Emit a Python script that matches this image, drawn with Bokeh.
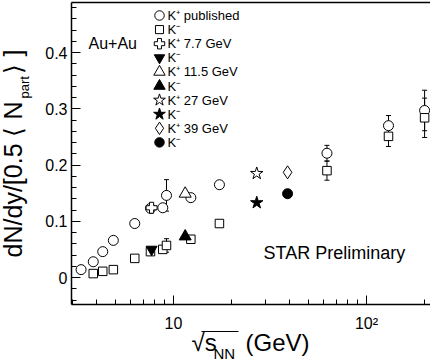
import numpy as np
from bokeh.plotting import figure
from bokeh.models import (ColumnDataSource, Whisker, TeeHead, FixedTicker, Range1d,
                          LinearScale, Label, BoxAnnotation, LinearAxis, LogAxis)
from bokeh.embed import file_html
from bokeh.resources import INLINE

FONT = "Liberation Sans"

# ---- data ----
pub_kp_energy = [3.32, 3.84, 4.3, 4.88, 6.3, 7.6, 8.8, 9.2, 12.3, 17.3, 62.4, 130.0, 200.0]
pub_kp = [0.014, 0.028, 0.046, 0.066, 0.096, 0.123, 0.124, 0.146, 0.142, 0.165, 0.221, 0.270, 0.297]
pub_kp_err = [0, 0, 0, 0, 0, 0, 0, 0.028, 0, 0, 0.014, 0.018, 0.036]

pub_km_energy = [3.84, 4.3, 4.88, 6.3, 7.6, 8.8, 9.2, 12.3, 17.3, 62.4, 130.0, 200.0]
pub_km = [0.007, 0.011, 0.014, 0.034, 0.046, 0.050, 0.057, 0.068, 0.096, 0.190, 0.251, 0.284]
pub_km_err = [0, 0, 0, 0, 0, 0, 0.012, 0, 0, 0.017, 0.018, 0.035]

bes_energy = [7.7, 11.5, 27.0, 39.0]
bes_kp = [0.124, 0.149, 0.185, 0.187]
bes_km = [0.050, 0.073, 0.133, 0.149]
bes_kp_markers = ["plus", "triangle", "star", "diamond"]
bes_km_markers = ["inverted_triangle", "triangle", "star", "circle"]

legend_labels = ["K\u207a published", "K\u207b", "K\u207a 7.7 GeV", "K\u207b", "K\u207a 11.5 GeV", "K\u207b",
                 "K\u207a 27 GeV", "K\u207b", "K\u207a 39 GeV", "K\u207b"]
legend_markers = ["circle", "square", "plus", "inverted_triangle", "triangle", "triangle",
                  "star", "star", "diamond", "circle"]
legend_filled = [False, False, False, True, False, True, False, True, False, True]

x_major = [10, 100]
x_minor = [3, 4, 5, 6, 7, 8, 9, 20, 30, 40, 50, 60, 70, 80, 90, 200]
y_major = [0, 0.1, 0.2, 0.3, 0.4]
y_labels = ["0", "0.1", "0.2", "0.3", "0.4"]
y_minor = [round(-0.04 + 0.02 * i, 2) for i in range(27)]

# axis extents of the drawn box
x_lo, x_hi = 2.962, 214.6
y_lo, y_hi = -0.048, 0.489

# ---- layout (pixels) ----
W, H = 430, 363
BOX_L, BOX_R, BOX_T, BOX_B = 71, 430, 2, 304

ppd = (BOX_R - BOX_L) / (np.log10(x_hi) - np.log10(x_lo))
x_start = 10 ** (np.log10(x_lo) - BOX_L / ppd)
x_end = 10 ** (np.log10(x_hi) + (W - BOX_R) / ppd)
ppu = (BOX_B - BOX_T) / (y_hi - y_lo)
y_start = y_lo - (H - BOX_B) / ppu
y_end = y_hi + BOX_T / ppu

sizes = {"circle": 10, "square": 8.5, "plus": 11, "inverted_triangle": 11, "triangle": 12,
         "star": 13, "diamond": 13}

p = figure(width=W, height=H, x_axis_type="log", x_range=(x_start, x_end), y_range=(y_start, y_end),
           x_axis_location=None, y_axis_location=None, title=None,
           output_backend="svg", toolbar_location=None,
           min_border_left=0, min_border_right=0, min_border_top=0, min_border_bottom=0)
p.outline_line_color = None
p.grid.visible = False
p.background_fill_color = "white"
p.border_fill_color = "white"

p.extra_x_ranges = {"px": Range1d(0, W)}
p.extra_y_ranges = {"py": Range1d(H, 0)}
p.extra_x_scales = {"px": LinearScale()}
p.extra_y_scales = {"py": LinearScale()}

def style_axis(ax):
    ax.axis_line_width = 1.5
    ax.axis_line_color = "black"
    ax.major_tick_in = 9
    ax.major_tick_out = 0
    ax.minor_tick_in = 5
    ax.minor_tick_out = 0
    ax.major_tick_line_color = "black"
    ax.minor_tick_line_color = "black"
    ax.major_label_text_font = FONT
    ax.major_label_text_font_size = "16px"
    ax.major_label_text_color = "black"

xa = LogAxis(fixed_location=y_lo, bounds=(x_lo, x_hi),
             ticker=FixedTicker(ticks=x_major, minor_ticks=x_minor),
             major_label_overrides={10: "10", 100: "10\u00b2"})
style_axis(xa)
xa.major_label_standoff = 10
p.add_layout(xa, "below")

ya = LinearAxis(fixed_location=x_lo, bounds=(y_lo, y_hi),
                ticker=FixedTicker(ticks=y_major, minor_ticks=y_minor),
                major_label_overrides=dict(zip(y_major, y_labels)))
style_axis(ya)
ya.major_label_standoff = 4
p.add_layout(ya, "left")

top = LogAxis(fixed_location=y_hi, bounds=(x_lo, x_hi), ticker=FixedTicker(ticks=[]),
              major_label_text_font_size="0px", major_tick_line_color=None,
              minor_tick_line_color=None, axis_line_width=1.5, axis_line_color="black")
p.add_layout(top, "above")

# error bars
def add_err(xs, ys, es):
    xs = np.array(xs); ys = np.array(ys); es = np.array(es)
    m = es > 0
    src = ColumnDataSource(dict(x=xs[m], lo=ys[m] - es[m], hi=ys[m] + es[m]))
    p.add_layout(Whisker(source=src, base="x", lower="lo", upper="hi", dimension="height",
                         line_color="black", line_width=1,
                         upper_head=TeeHead(size=5, line_color="black", line_width=1),
                         lower_head=TeeHead(size=5, line_color="black", line_width=1),
                         level="underlay"))

add_err(pub_kp_energy, pub_kp, pub_kp_err)
add_err(pub_km_energy, pub_km, pub_km_err)

p.scatter(pub_kp_energy, pub_kp, marker="circle", size=sizes["circle"], fill_color="white",
          line_color="black", line_width=1)
p.scatter(pub_km_energy, pub_km, marker="square", size=sizes["square"], fill_color="white",
          line_color="black", line_width=1)
for e, v, m in zip(bes_energy, bes_kp, bes_kp_markers):
    p.scatter([e], [v], marker=m, size=sizes[m], fill_color="white", line_color="black", line_width=1)
for e, v, m in zip(bes_energy, bes_km, bes_km_markers):
    p.scatter([e], [v], marker=m, size=sizes[m], fill_color="black", line_color="black", line_width=1)

def text(t, px, py, size, **kw):
    p.add_layout(Label(x=px, y=H - py, x_units="screen", y_units="screen", text=t,
                       text_font=FONT, text_font_size=size, text_color="black", **kw))

# legend
for i, (lab, m, filled) in enumerate(zip(legend_labels, legend_markers, legend_filled)):
    row_py = 15 + 14.1 * i
    p.scatter([159], [row_py], marker=m, size=sizes[m] * 0.95,
              fill_color="black" if filled else "white", line_color="black", line_width=1,
              x_range_name="px", y_range_name="py")
    text(lab, 167, row_py, "13px", text_baseline="middle")

text("Au+Au", 88, 43, "16px", text_baseline="middle")
text("STAR Preliminary", 263, 252, "18px", text_baseline="middle")

# y axis title
text("dN/dy/[0.5 \u27e8 N", 12, 101, "25px", angle=np.pi / 2, text_align="right",
     text_baseline="alphabetic")
text("part", 24, 98, "13px", angle=np.pi / 2, text_align="left", text_baseline="alphabetic")
text("\u27e9 ]", 12, 73, "25px", angle=np.pi / 2, text_align="left", text_baseline="alphabetic")

# x axis title
text("\u221as", 191, 342, "24px", text_baseline="alphabetic")
text("NN", 213, 353, "15px", text_baseline="alphabetic")
text("(GeV)", 245, 342, "24px", text_baseline="alphabetic")
p.add_layout(BoxAnnotation(left=201, right=238, top=H - 330.5, bottom=H - 331.5,
                           left_units="screen", right_units="screen", top_units="screen",
                           bottom_units="screen", fill_color="black", fill_alpha=1,
                           line_color=None, level="overlay"))

open("out.html", "w").write(file_html(p, INLINE))
